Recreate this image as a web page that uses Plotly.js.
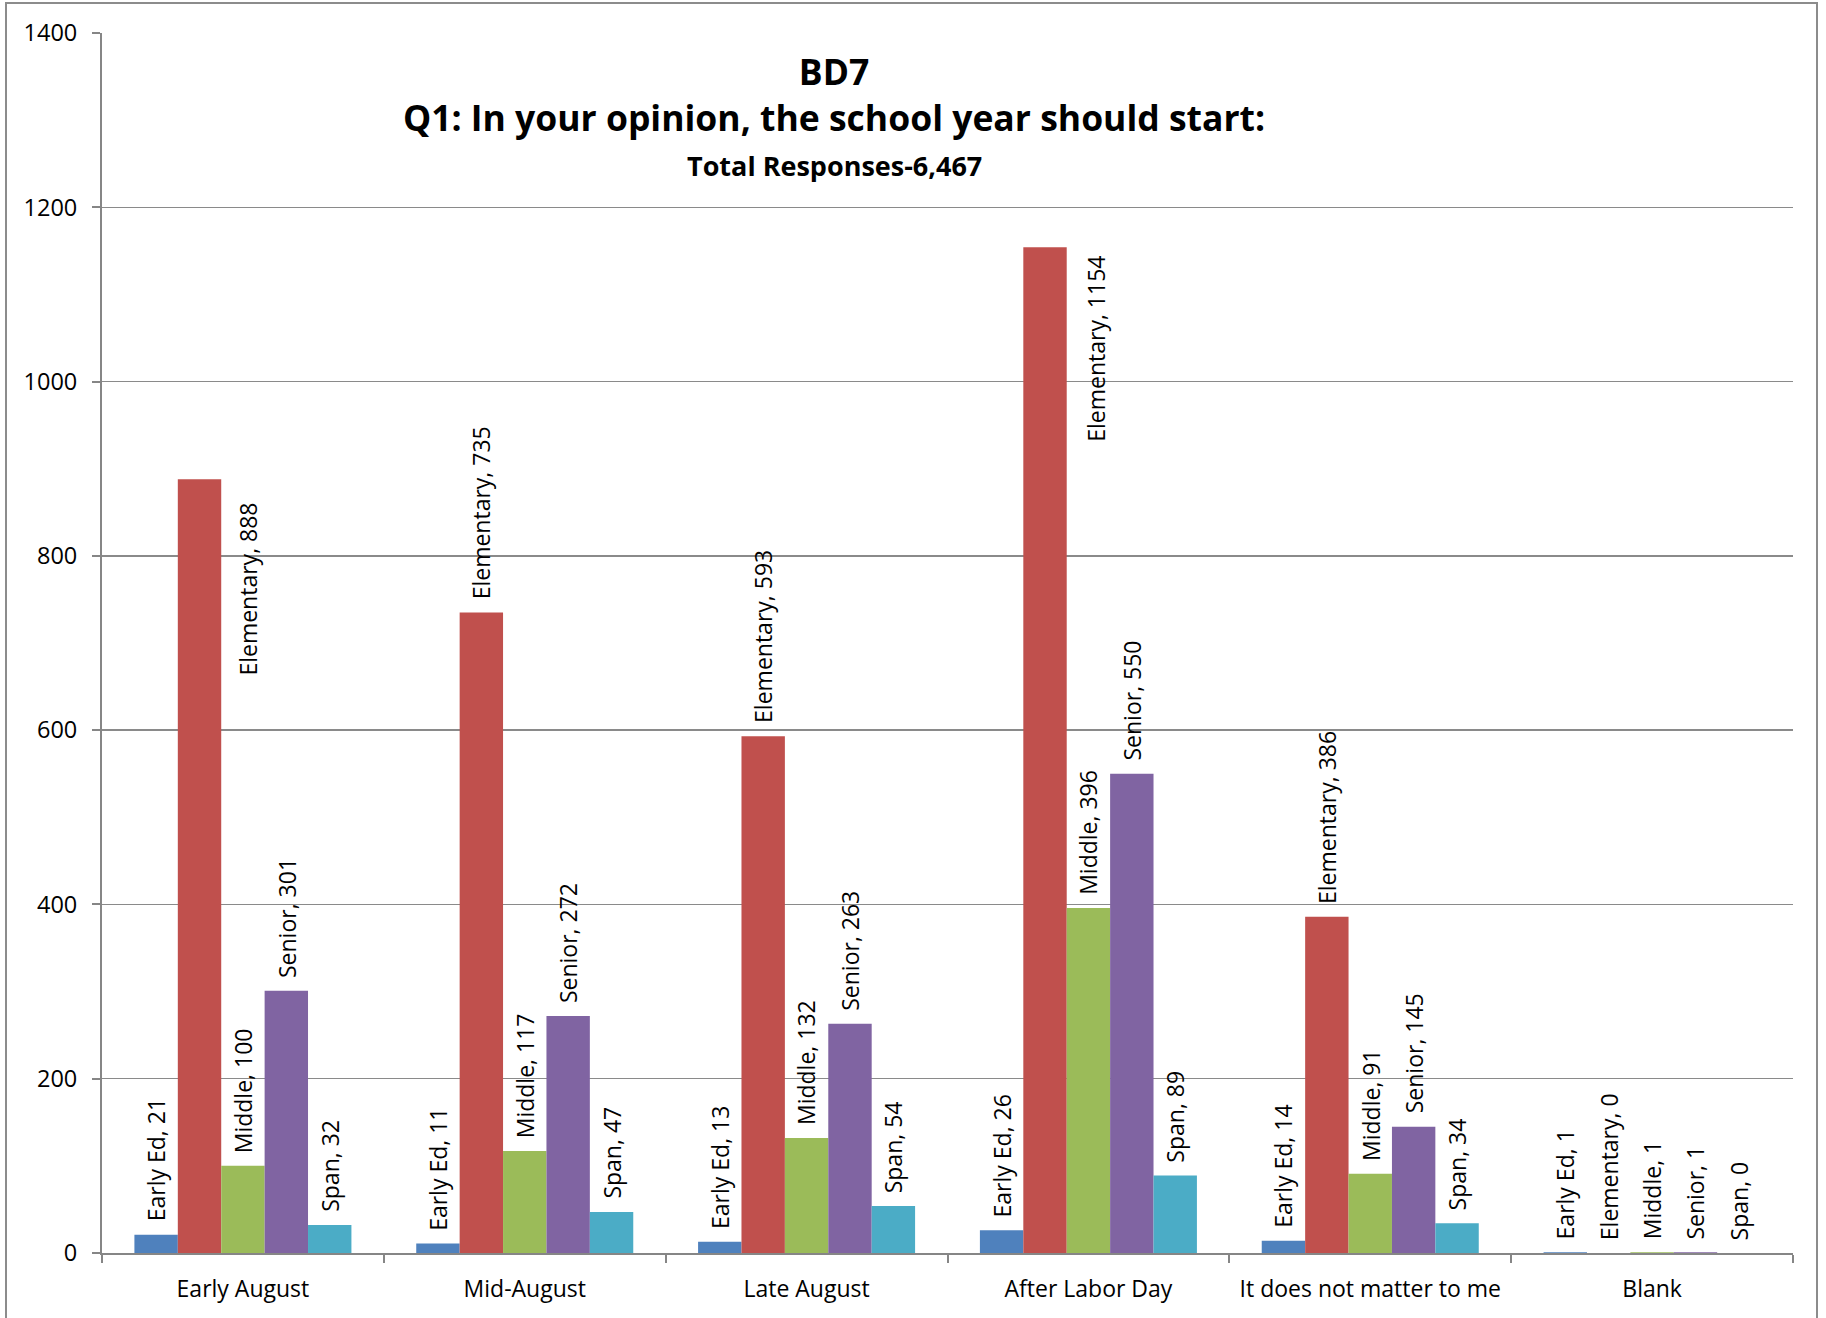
<!DOCTYPE html>
<html>
<head>
<meta charset="utf-8">
<script src="https://cdn.plot.ly/plotly-3.0.1.min.js"></script>
<style>
  html, body { margin: 0; padding: 0; background: #ffffff; }
  #wrap { position: relative; width: 1826px; height: 1318px; overflow: hidden; }
  #chart { position: absolute; left: 0; top: 0; width: 1826px; height: 1318px; }
  #frame { position: absolute; left: 5px; top: 2px; width: 1813px; height: 1330px;
           border: 2px solid #8c8c8c; box-sizing: border-box; pointer-events: none; }
</style>
</head>
<body>
<div id="wrap">
  <div id="chart"></div>
  <div id="frame"></div>
</div>
<script>
// ---- data ----
const categories = ['Early August', 'Mid-August', 'Late August', 'After Labor Day', 'It does not matter to me', 'Blank'];
const seriesNames = ['Early Ed', 'Elementary', 'Middle', 'Senior', 'Span'];
const earlyEd    = [21, 11, 13, 26, 14, 1];
const elementary = [888, 735, 593, 1154, 386, 0];
const middle     = [100, 117, 132, 396, 91, 1];
const senior     = [301, 272, 263, 550, 145, 1];
const span       = [32, 47, 54, 89, 34, 0];
const yTickVals  = [0, 200, 400, 600, 800, 1000, 1200, 1400];
const titleLine1 = 'BD7';
const titleLine2 = 'Q1: In your opinion, the school year should start:';
const subtitle   = 'Total Responses-6,467';

// ---- style ----
const seriesValues = [earlyEd, elementary, middle, senior, span];
const colors = ['#4F81BD', '#C0504D', '#9BBB59', '#8064A2', '#4BACC6'];
const FONT = 'Open Sans, Liberation Sans, sans-serif';
const W = 1826, H = 1318;
const M = { l: 102, r: 33, t: 33, b: 65 };
const BARGAP = 0.23;
const plotW = W - M.l - M.r;
const barW = plotW / categories.length * (1 - BARGAP) / seriesNames.length;

// labels that Excel pushed beside the bar (series index, category index, extra x px, y px below top)
const movedLabels = [
  { s: 1, c: 0, dx: 5, dy: 21 },
  { s: 1, c: 3, dx: 8, dy: 6 }
];

const traces = seriesNames.map((name, i) => ({
  type: 'bar',
  name: name,
  x: categories,
  y: seriesValues[i],
  marker: { color: colors[i], line: { width: 0 } },
  hoverinfo: 'skip'
}));

const annotations = [];
seriesNames.forEach((name, i) => {
  seriesValues[i].forEach((v, c) => {
    const mv = movedLabels.find(m => m.s === i && m.c === c);
    const base = {
      x: categories[c], y: v, xref: 'x', yref: 'y',
      text: name + ', ' + v, showarrow: false, textangle: -90,
      font: { family: FONT, size: 23, color: '#000000' },
      xanchor: 'center'
    };
    if (mv) {
      base.yanchor = 'top';
      base.xshift = (i - 2) * barW + barW + mv.dx;
      base.yshift = -mv.dy;
    } else {
      base.yanchor = 'bottom';
      base.xshift = (i - 2) * barW;
      base.yshift = 11;
    }
    annotations.push(base);
  });
});

annotations.push({
  text: '<b>' + subtitle + '</b>', showarrow: false,
  xref: 'paper', yref: 'paper', x: (834 - M.l) / plotW, y: 1 - (166 - M.t) / (H - M.t - M.b),
  xanchor: 'center', yanchor: 'middle',
  font: { family: FONT, size: 27, color: '#000000' }
});

const layout = {
  width: W, height: H,
  margin: M,
  paper_bgcolor: '#ffffff', plot_bgcolor: '#ffffff',
  barmode: 'group', bargap: BARGAP, bargroupgap: 0,
  showlegend: false,
  font: { family: FONT, color: '#000000' },
  title: {
    text: '<b>' + titleLine1 + '<br>' + titleLine2 + '</b>',
    font: { family: FONT, size: 35.5, color: '#000000' },
    xref: 'paper', x: (834 - M.l) / plotW, xanchor: 'center',
    yref: 'container', y: 1 - 85 / H, yanchor: 'middle'
  },
  xaxis: {
    type: 'category',
    showline: true, linecolor: '#868686', linewidth: 2,
    ticks: 'outside', tickson: 'boundaries', ticklen: 8, tickwidth: 2, tickcolor: '#868686',
    tickfont: { family: FONT, size: 23, color: '#000000' },
    ticklabelstandoff: 14,
    showgrid: false, zeroline: false
  },
  yaxis: {
    range: [0, 1400], tickmode: 'array', tickvals: yTickVals,
    showline: true, linecolor: '#868686', linewidth: 2,
    ticks: 'outside', ticklen: 8, tickwidth: 2, tickcolor: '#868686',
    tickfont: { family: FONT, size: 23.5, color: '#000000' },
    ticklabelstandoff: 10,
    showgrid: true, gridcolor: '#8a8a8a', gridwidth: 1.5,
    zeroline: false
  },
  annotations: annotations
};

Plotly.newPlot('chart', traces, layout, { staticPlot: true, displayModeBar: false });
</script>
</body>
</html>
